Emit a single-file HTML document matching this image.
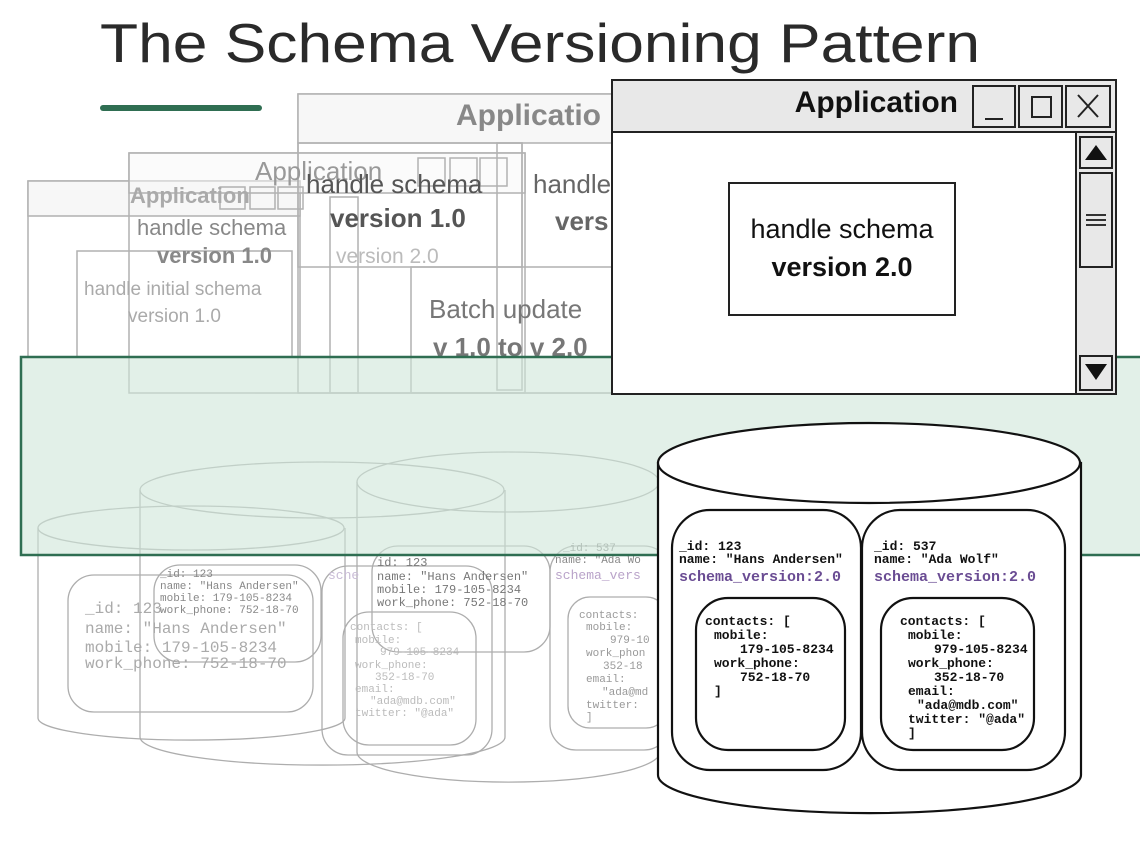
<!DOCTYPE html>
<html><head><meta charset="utf-8"><style>
html,body{margin:0;padding:0;background:#fff;}
svg{display:block;}
.m{font-family:"Liberation Mono",monospace;}
.s{font-family:"Liberation Sans",sans-serif;}
</style></head><body>
<svg width="1140" height="850" viewBox="0 0 1140 850" xmlns="http://www.w3.org/2000/svg">
<rect width="1140" height="850" fill="#fff"/>
<text x="100" y="62" class="s" font-size="55" fill="#2a2a2a" textLength="880" lengthAdjust="spacingAndGlyphs">The Schema Versioning Pattern</text>
<rect x="100" y="105" width="162" height="6" rx="3" fill="#2f6e52"/>

<!-- faded background windows -->
<g opacity="0.45" stroke="#555" stroke-width="1.5" fill="none" class="s">
  <rect x="28" y="181" width="272" height="176" fill="#fff"/>
  <rect x="28" y="181" width="272" height="35" fill="#eee"/>
  <rect x="77" y="251" width="215" height="106"/>
  <rect x="129" y="153" width="396" height="240"/>
  <rect x="129" y="153" width="396" height="40" fill="#f0f0f0" fill-opacity="0.5"/>
  <rect x="298" y="94" width="322" height="299"/>
  <rect x="298" y="94" width="322" height="49" fill="#eee"/>
  <rect x="298" y="143" width="224" height="124"/>
  <rect x="411" y="267" width="209" height="126"/>
  <rect x="497" y="143" width="25" height="247"/>
  <rect x="330" y="197" width="28" height="196"/>
  <rect x="220" y="187" width="25" height="22"/><rect x="250" y="187" width="25" height="22"/><rect x="278" y="187" width="25" height="22"/>
  <rect x="418" y="158" width="27" height="28"/><rect x="450" y="158" width="27" height="28"/><rect x="480" y="158" width="27" height="28"/>
</g>
<g class="s" fill="#777">
  <text x="456" y="125" font-size="30" font-weight="bold" fill="#888">Applicatio</text>
  <text x="255" y="180" font-size="26" fill="#999">Application</text>
  <text x="130" y="203" font-size="22" font-weight="bold" fill="#aaa">Application</text>
  <text x="137" y="235" font-size="22" fill="#888">handle schema</text>
  <text x="157" y="263" font-size="22" font-weight="bold" fill="#888">version 1.0</text>
  <text x="84" y="295" font-size="19" fill="#aaa">handle initial schema</text>
  <text x="128" y="322" font-size="19" fill="#aaa">version 1.0</text>
  <text x="306" y="193" font-size="26" fill="#555">handle schema</text>
  <text x="330" y="227" font-size="26" font-weight="bold" fill="#555">version 1.0</text>
  <text x="336" y="263" font-size="21" fill="#bbb">version 2.0</text>
  <text x="533" y="193" font-size="26" fill="#666">handle</text>
  <text x="555" y="230" font-size="26" font-weight="bold" fill="#666">vers</text>
  <text x="429" y="318" font-size="26" fill="#777">Batch update</text>
  <text x="433" y="356" font-size="26" font-weight="bold" fill="#777">v 1.0 to v 2.0</text>
</g>

<!-- faded cylinders -->
<g stroke="#999" stroke-width="1.3" fill="none" opacity="0.8">
  <path d="M38 528 V718 A153 22 0 0 0 345 718 V528"/>
  <ellipse cx="191" cy="528" rx="153" ry="22"/>
  <path d="M140 490 V737 A182 28 0 0 0 505 737 V490"/>
  <ellipse cx="322" cy="490" rx="182" ry="28"/>
  <path d="M357 482 V752 A151 30 0 0 0 660 752 V482"/>
  <ellipse cx="508" cy="482" rx="151" ry="30"/>
  <rect x="68" y="575" width="245" height="137" rx="26"/>
  <rect x="154" y="565" width="167" height="97" rx="26"/>
  <rect x="322" y="566" width="170" height="189" rx="26"/>
  <rect x="343" y="612" width="133" height="133" rx="26"/>
  <rect x="372" y="546" width="178" height="106" rx="26"/>
  <rect x="550" y="546" width="120" height="204" rx="26"/>
  <rect x="568" y="597" width="100" height="131" rx="22"/>
</g>
<g class="m" fill="#999">
  <text font-size="16" fill="#aaa"><tspan x="85" y="613">_id: 123</tspan><tspan x="85" y="633">name: "Hans Andersen"</tspan><tspan x="85" y="652">mobile: 179-105-8234</tspan><tspan x="85" y="668">work_phone: 752-18-70</tspan></text>
  <text font-size="11" fill="#888"><tspan x="160" y="577">_id: 123</tspan><tspan x="160" y="589">name: "Hans Andersen"</tspan><tspan x="160" y="601">mobile: 179-105-8234</tspan><tspan x="160" y="613">work_phone: 752-18-70</tspan></text>
  <text font-size="12" fill="#777"><tspan x="377" y="566">id: 123</tspan><tspan x="377" y="580">name: "Hans Andersen"</tspan><tspan x="377" y="593">mobile: 179-105-8234</tspan><tspan x="377" y="606">work_phone: 752-18-70</tspan></text>
  <text font-size="11" fill="#bbb"><tspan x="350" y="630">contacts: [</tspan><tspan x="355" y="643">mobile:</tspan><tspan x="380" y="655">979-105-8234</tspan><tspan x="355" y="668">work_phone:</tspan><tspan x="375" y="680">352-18-70</tspan><tspan x="355" y="692">email:</tspan><tspan x="370" y="704">"ada@mdb.com"</tspan><tspan x="355" y="716">twitter: "@ada"</tspan></text>
  <text font-size="11" fill="#888"><tspan x="563" y="551">_id: 537</tspan><tspan x="555" y="563">name: "Ada Wo</tspan></text>
  <text x="555" y="579" font-size="13" fill="#b9a3c9">schema_vers</text>
  <text x="328" y="579" font-size="13" fill="#c9bcd6">sche</text>
  <text font-size="11" fill="#999"><tspan x="579" y="618">contacts:</tspan><tspan x="586" y="630">mobile:</tspan><tspan x="610" y="643">979-10</tspan><tspan x="586" y="656">work_phon</tspan><tspan x="603" y="669">352-18</tspan><tspan x="586" y="682">email:</tspan><tspan x="602" y="695">"ada@md</tspan><tspan x="586" y="708">twitter:</tspan><tspan x="586" y="720">]</tspan></text>
</g>

<!-- green band -->
<rect x="21" y="357" width="1125" height="198" fill="#cfe6d8" fill-opacity="0.6" stroke="#2f6e52" stroke-width="2.5"/>

<!-- main window -->
<g stroke="#222" stroke-width="2">
  <rect x="612" y="80" width="504" height="314" fill="#fff"/>
  <rect x="612" y="80" width="504" height="52" fill="#e8e8e8"/>
  <rect x="973" y="86" width="42" height="41" fill="#e8e8e8"/>
  <rect x="1019" y="86" width="43" height="41" fill="#e8e8e8"/>
  <rect x="1066" y="86" width="44" height="41" fill="#e8e8e8"/>
  <line x1="985" y1="119" x2="1003" y2="119"/>
  <rect x="1032" y="97" width="19" height="20" fill="none"/>
  <path d="M1078 95 L1098 117 M1098 95 L1078 117" fill="none"/>
  <rect x="1076" y="132" width="40" height="262" fill="#e8e8e8"/>
  <rect x="1080" y="137" width="32" height="31" fill="#e8e8e8"/>
  <rect x="1080" y="173" width="32" height="94" fill="#e8e8e8"/>
  <rect x="1080" y="356" width="32" height="34" fill="#e8e8e8"/>
  <rect x="729" y="183" width="226" height="132" fill="#fff"/>
</g>
<path d="M1096 145 L1107 160 L1085 160 Z" fill="#111"/>
<path d="M1085 364 L1107 364 L1096 380 Z" fill="#111"/>
<path d="M1086 215 H1106 M1086 220 H1106 M1086 225 H1106" stroke="#333" stroke-width="2"/>
<text x="958" y="112" class="s" font-size="30" font-weight="bold" fill="#111" text-anchor="end">Application</text>
<text x="842" y="238" class="s" font-size="27" fill="#111" text-anchor="middle">handle schema</text>
<text x="842" y="276" class="s" font-size="27" font-weight="bold" fill="#111" text-anchor="middle">version 2.0</text>

<!-- foreground cylinder -->
<g stroke="#111" stroke-width="2.2" fill="#fff">
  <path d="M658 463 V775 A211 38 0 0 0 1081 775 V463 Z"/>
  <ellipse cx="869" cy="463" rx="211" ry="40"/>
  <rect x="672" y="510" width="189" height="260" rx="38"/>
  <rect x="862" y="510" width="203" height="260" rx="38"/>
  <rect x="696" y="598" width="149" height="152" rx="32"/>
  <rect x="881" y="598" width="153" height="152" rx="32"/>
</g>
<g class="m" font-size="13" fill="#111" font-weight="bold">
  <text><tspan x="679" y="550">_id: 123</tspan><tspan x="679" y="563">name: "Hans Andersen"</tspan></text>
  <text><tspan x="874" y="550">_id: 537</tspan><tspan x="874" y="563">name: "Ada Wolf"</tspan></text>
  <text x="679" y="581" font-size="15" fill="#6a4c93">schema_version:2.0</text>
  <text x="874" y="581" font-size="15" fill="#6a4c93">schema_version:2.0</text>
  <text><tspan x="705" y="625">contacts: [</tspan><tspan x="714" y="639">mobile:</tspan><tspan x="740" y="653">179-105-8234</tspan><tspan x="714" y="667">work_phone:</tspan><tspan x="740" y="681">752-18-70</tspan><tspan x="714" y="695">]</tspan></text>
  <text><tspan x="900" y="625">contacts: [</tspan><tspan x="908" y="639">mobile:</tspan><tspan x="934" y="653">979-105-8234</tspan><tspan x="908" y="667">work_phone:</tspan><tspan x="934" y="681">352-18-70</tspan><tspan x="908" y="695">email:</tspan><tspan x="917" y="709">"ada@mdb.com"</tspan><tspan x="908" y="723">twitter: "@ada"</tspan><tspan x="908" y="737">]</tspan></text>
</g>
</svg>
</body></html>
